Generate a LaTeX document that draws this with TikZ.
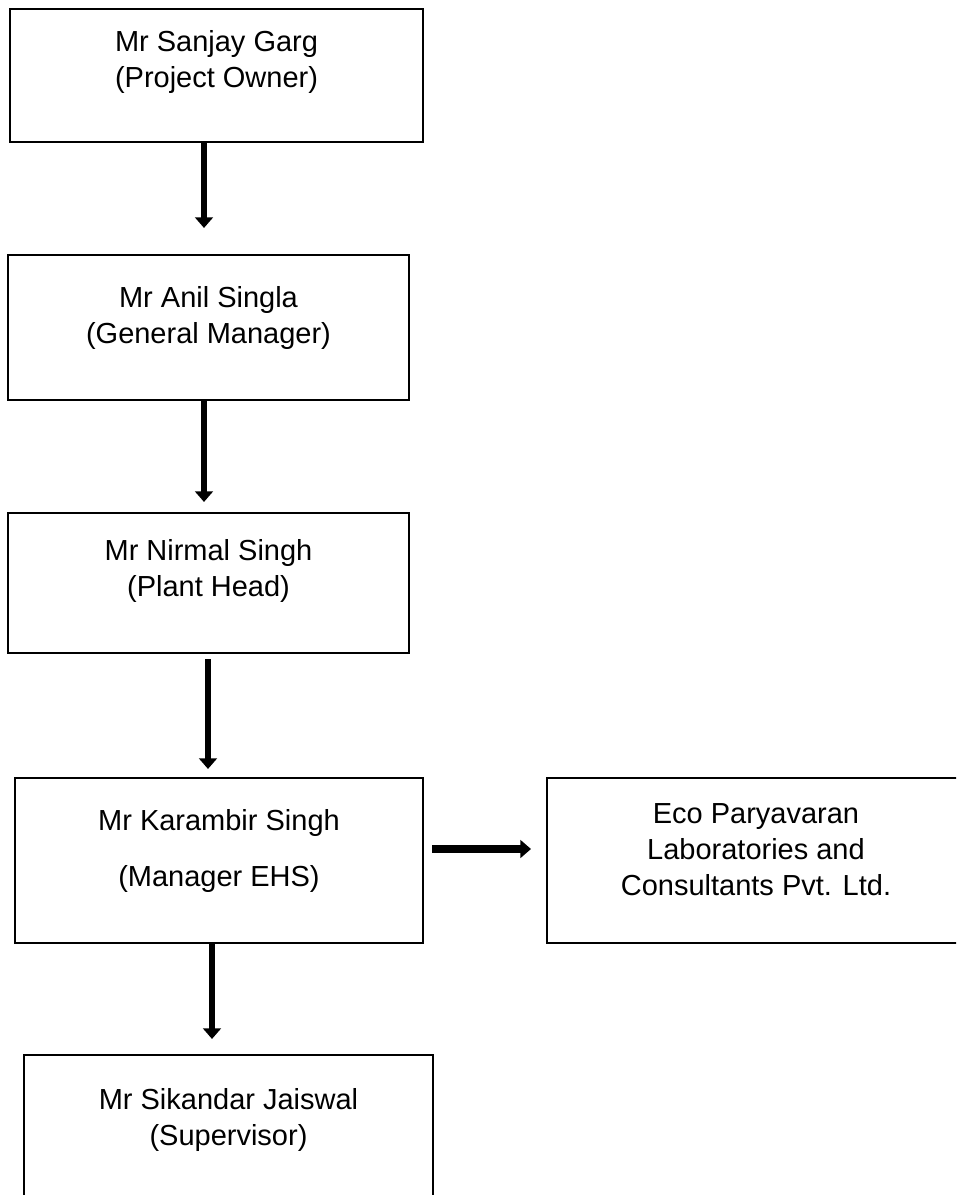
\documentclass[tikz,border=0pt]{standalone}
\usepackage{fontspec}
\setmainfont{Liberation Sans}
\usetikzlibrary{calc}
\usetikzlibrary{arrows.meta}

\tikzset{
 box/.style={draw=black, line width=1.2pt, rectangle, inner sep=0},
 lbl/.style={align=center, font=\fontsize{16.5}{20.5}\selectfont, inner sep=0},
 arr/.style={black, line width=3pt, -{Triangle[width=10pt,length=6pt]}},
}

\begin{document}
\begin{tikzpicture}[x=0.02cm, y=-0.02cm]
\useasboundingbox (0,0) rectangle (956,1195);
\clip (0,0) rectangle (956,1195);
% boxes
\node[box, minimum width=8.26cm, minimum height=2.66cm] (b1) at (216.5,75.5) {};
\node[box, minimum width=8.02cm, minimum height=2.9cm] (b2) at (208.5,327.5) {};
\node[box, minimum width=8.02cm, minimum height=2.8cm] (b3) at (208.5,583) {};
\node[box, minimum width=8.16cm, minimum height=3.3cm] (b4) at (219,860.5) {};
\node[box, minimum width=8.36cm, minimum height=3.3cm] (b5) at (756,860.5) {};
\node[box, minimum width=8.18cm, minimum height=3.1cm] (b6) at (228.5,1132.5) {};
% names
\node[lbl] (t1) at (216.5,62) {Mr Sanjay Garg\\(Project Owner)};
\node[lbl] (t2) at (208.5,318) {Mr Anil Singla\\(General Manager)};
\node[lbl] (t3) at (208.5,571) {Mr Nirmal Singh\\(Plant Head)};
\node[lbl] (t4) at (219,851) {Mr Karambir Singh\\[11pt](Manager EHS)};
\node[lbl] (t5) at (756,850) {Eco Paryavaran\\Laboratories and\\Consultants Pvt. Ltd.};
\node[lbl] (t6) at (228.5,1120) {Mr Sikandar Jaiswal\\(Supervisor)};
% arrows
\draw[arr] ($(b1.south)+(-12.5,0)$) -- ($(b2.north)+(-4.5,-26)$);
\draw[arr] ($(b2.south)+(-4.5,0)$) -- ($(b3.north)+(-4.5,-10)$);
\draw[arr] ($(b3.south)+(-0.5,5)$) -- ($(b4.north)+(-11,-8)$);
\draw[arr, line width=4.5pt, -{Triangle[width=10pt,length=6pt]}] ($(b4.east)+(8,-11.5)$) -- ($(b5.west)+(-15,-11.5)$);
\draw[arr] ($(b4.south)+(-7,0)$) -- ($(b6.north)+(-16.5,-15)$);
\end{tikzpicture}
\end{document}
